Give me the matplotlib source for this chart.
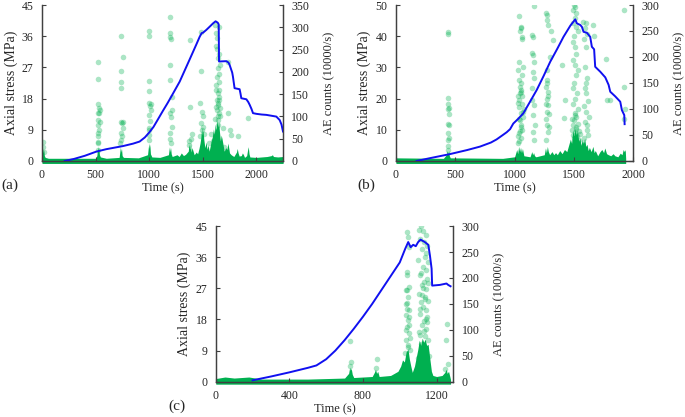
import matplotlib
matplotlib.use("Agg")
import matplotlib.pyplot as plt

plt.rcParams["font.family"] = ["Liberation Serif", "DejaVu Serif"]

GREEN = "#00b050"
BLUE = "#1010f0"
AXC = "#404040"
TXT = "#262626"

# ---------------- panel (a) ----------------
a_stress_t = [212, 300, 400, 507, 600, 756, 850, 911, 960, 1000, 1040, 1080, 1129, 1170, 1207,
              1285, 1378, 1440, 1471, 1490, 1502, 1533, 1570, 1596, 1620, 1640, 1649, 1652,
              1720, 1740, 1751, 1775, 1782, 1797, 1844, 1852, 1860, 1907, 1925, 1938, 1955,
              1969, 2000, 2050, 2093, 2150, 2187, 2218, 2235, 2249]
a_stress = [0.0, 0.6, 1.5, 2.7, 3.4, 4.3, 5.0, 5.6, 6.8, 8.2, 9.8, 11.9, 14.5, 16.6, 18.6,
            22.9, 29.3, 33.6, 35.8, 36.9, 37.0, 37.8, 38.9, 39.7, 40.3, 39.9, 39.4, 28.7,
            28.8, 28.4, 27.7, 25.5, 24.3, 21.0, 20.7, 19.5, 18.1, 17.8, 17.0, 16.2, 15.0,
            13.8, 13.6, 13.4, 13.3, 13.0, 12.8, 11.8, 10.5, 8.5]

a_env_t = [0, 4, 8, 12, 16, 22, 30, 60, 300, 500, 512, 518, 522, 526, 530, 536, 545, 600, 720,
           728, 732, 736, 742, 748, 760, 900, 985, 992, 998, 1002, 1006, 1012, 1025, 1100, 1180,
           1186, 1190, 1195, 1200, 1206, 1215, 1260, 1280, 1300, 1320, 1340, 1365, 1372, 1380,
           1386, 1392, 1400, 1420, 1440, 1452, 1465, 1475, 1482, 1490, 1496, 1502, 1510, 1520,
           1532, 1540, 1550, 1560, 1575, 1590, 1600, 1608, 1616, 1624, 1632, 1640, 1648, 1656,
           1665, 1672, 1680, 1690, 1700, 1715, 1725, 1735, 1742, 1750, 1765, 1790, 1805, 1815,
           1822, 1830, 1840, 1860, 1870, 1880, 1890, 1910, 1918, 1925, 1932, 1940, 2000, 2100,
           2140, 2150, 2160, 2200, 2250]
a_env = [8, 22, 28, 18, 26, 12, 8, 6, 6, 6, 12, 26, 32, 22, 30, 14, 9, 6, 8,
         24, 32, 20, 28, 12, 8, 7, 14, 30, 40, 28, 38, 16, 9, 8, 14,
         26, 32, 20, 30, 16, 10, 14, 10, 18, 12, 15, 22, 38, 26, 40, 20, 30, 14, 20, 16, 28, 40,
         52, 75, 58, 70, 48, 30, 42, 26, 36, 22, 40, 55, 72, 60, 82, 70, 92, 76, 88, 66,
         45, 58, 50, 36, 22, 30, 26, 40, 30, 18, 14, 10, 16, 20,
         28, 18, 11, 12, 18, 14, 8, 12, 24, 32, 16, 9, 8, 10,
         12, 14, 10, 9, 10]

a_pt_t = [8, 10, 15,
          522, 522, 525, 528, 522, 520, 525, 522, 520, 525, 522, 540, 545, 535, 530, 518,
          734, 734, 734, 734, 740, 745, 735, 738, 756, 758, 752, 742, 730,
          998, 998, 998, 998, 1002, 1008, 998, 995, 1000, 1002, 1020, 1018, 1005, 994,
          1191, 1195, 1198, 1205, 1192, 1190, 1195, 1200, 1190, 1213, 1215, 1205, 1213, 1198,
          1378, 1380, 1375, 1390, 1400, 1370,
          1487, 1480, 1471, 1500, 1510, 1495, 1470, 1505, 1485, 1492,
          1610, 1625, 1630, 1620, 1630, 1640, 1635, 1625, 1640, 1630, 1645, 1635, 1640,
          1650, 1655, 1650, 1655, 1645, 1660, 1650, 1655, 1648, 1660, 1640, 1615, 1628,
          1652, 1638, 1622, 1658, 1645,
          1736, 1736, 1767, 1829, 1922, 1700, 1600, 1580, 1750, 1560, 1690]
a_pt_n = [43, 32, 20,
          221, 185, 128, 118, 107, 92, 81, 62, 43, 40, 25, 114, 88, 107, 70, 55,
          281, 202, 177, 163, 88, 85, 62, 47, 234, 88, 73, 55, 40,
          292, 280, 180, 157, 129, 123, 103, 73, 70, 47, 128, 114, 90, 58,
          322, 288, 279, 273, 215, 182, 107, 99, 62, 144, 77, 40, 114, 50,
          271, 122, 35, 50, 60, 45,
          290, 202, 131, 77, 60, 70, 55, 100, 85, 110,
          305, 287, 275, 257, 251, 208, 189, 159, 152, 137, 129, 114, 92,
          178, 160, 144, 136, 126, 118, 107, 300, 240, 100, 80, 95, 170,
          195, 230, 120, 215, 100,
          223, 107, 58, 55, 96, 32, 45, 60, 70, 40, 75]

# ---------------- panel (b) ----------------
b_stress_t = [174, 300, 455, 600, 708, 800, 848, 900, 933, 962, 989, 1030, 1074, 1130, 1187,
              1245, 1300, 1360, 1412, 1470, 1511, 1525, 1553, 1567, 1581, 1609, 1637, 1651,
              1670, 1679, 1722, 1764, 1792, 1806, 1848, 1890, 1904, 1924, 1927]
b_stress = [0.0, 1.0, 2.2, 3.5, 4.6, 5.9, 6.9, 8.3, 9.2, 10.2, 12.0, 13.5, 15.3, 19.0, 22.8,
            27.3, 31.8, 36.0, 39.8, 43.4, 45.4, 44.1, 43.6, 43.0, 41.4, 41.1, 39.8, 36.6,
            35.8, 30.2, 28.6, 26.8, 24.4, 22.2, 20.7, 19.0, 16.3, 14.7, 11.8]

b_env_t = [0, 400, 425, 432, 438, 444, 450, 458, 900, 1000, 1018, 1026, 1034, 1042, 1050,
           1058, 1066, 1078, 1130, 1145, 1152, 1160, 1168, 1180, 1250, 1260, 1268, 1276, 1284,
           1295, 1315, 1330, 1345, 1360, 1380, 1400, 1420, 1440, 1455, 1470, 1480, 1490, 1500,
           1510, 1520, 1530, 1540, 1550, 1560, 1570, 1580, 1590, 1600, 1610, 1620, 1630, 1645,
           1660, 1670, 1680, 1700, 1720, 1735, 1750, 1760, 1775, 1790, 1810, 1830, 1845, 1870,
           1890, 1905, 1915, 1925, 1932, 1936]
b_env = [6, 5, 12, 20, 14, 20, 10, 6, 5, 8, 22, 14, 28, 18, 26, 16, 24, 10, 8, 18, 12, 16, 10,
         8, 12, 25, 16, 28, 18, 12, 18, 12, 16, 12, 20, 14, 22, 18, 30, 42, 34, 58, 48,
         62, 50, 58, 38, 44, 30, 42, 34, 44, 28, 32, 20, 26, 18,
         28, 16, 20, 10, 18, 22, 16, 25, 14, 12, 10, 14, 10, 8,
         15, 12, 22, 18, 22, 5]

b_pt_t = [439, 441, 437, 442, 444, 438, 445, 440, 446, 439, 443, 441, 438, 440,
          1040, 1050, 1055, 1045, 1060, 1065, 1035, 1030, 1040, 1045, 1055, 1050, 1060, 1040,
          1035, 1050, 1045, 1055, 1040, 1030, 1065, 1070, 1035, 1060, 1050,
          1025, 1032, 1048, 1058, 1068, 1075, 1028, 1042, 1052, 1062, 1072, 1038,
          1160, 1150, 1155, 1150, 1158, 1165, 1155, 1160, 1150, 1165, 1158, 1170,
          1152, 1162, 1148,
          1265, 1275, 1270, 1280, 1270, 1275, 1265, 1280, 1270, 1285, 1275, 1265, 1290,
          1268, 1278, 1272, 1288, 1262, 1282, 1274, 1295,
          1310, 1320, 1398, 1425, 1415,
          1500, 1510, 1490, 1520, 1505, 1495, 1515, 1530, 1500, 1490, 1510, 1520, 1495, 1505,
          1530, 1515, 1500, 1490, 1525, 1510, 1495, 1535, 1505, 1520, 1500, 1490, 1515,
          1482, 1488, 1498, 1508, 1518, 1528, 1540, 1545, 1485, 1512, 1538, 1548,
          1580, 1600, 1590, 1610, 1585, 1600, 1595, 1610, 1600, 1590, 1605, 1615, 1585, 1600,
          1592, 1608, 1620, 1625, 1588, 1612,
          1660, 1665, 1770, 1780, 1800, 1924, 1924, 1926, 1922]
b_pt_n = [249, 244, 121, 109, 102, 100, 90, 72, 70, 54, 45, 40, 28, 21,
          279, 258, 255, 250, 239, 235, 191, 175, 156, 143, 137, 133, 125, 117,
          104, 92, 79, 66, 53, 125, 110, 95, 80, 60, 45,
          35, 48, 58, 70, 85, 100, 112, 130, 150, 165, 180, 38,
          298, 242, 238, 208, 204, 190, 172, 160, 117, 107, 88, 70,
          55, 40, 140,
          284, 280, 271, 262, 156, 150, 142, 133, 120, 108, 95, 80, 65,
          40, 55, 70, 90, 110, 125, 175, 200,
          250, 232, 185, 117, 82,
          300, 297, 290, 285, 275, 265, 258, 250, 240, 228, 220, 205, 195, 185,
          175, 165, 150, 140, 130, 120, 110, 100, 92, 85, 78, 70, 65,
          60, 50, 45, 55, 62, 48, 58, 40, 80, 88, 72, 52,
          268, 265, 255, 245, 235, 220, 181, 160, 150, 140, 130, 115, 105, 95,
          75, 60, 50, 85, 45, 70,
          262, 240, 197, 117, 117, 290, 143, 100, 80]

# ---------------- panel (c) ----------------
c_stress_t = [200, 300, 400, 500, 547, 600, 650, 700, 750, 800, 850, 900, 950, 1000, 1030,
              1046, 1059, 1073, 1087, 1100, 1113, 1136, 1155, 1164, 1173, 1176, 1218, 1254,
              1263, 1276]
c_stress = [0.4, 1.5, 2.7, 4.0, 4.7, 6.5, 9.0, 12.0, 15.3, 18.8, 22.5, 26.5, 30.5, 34.5,
            38.5, 40.4, 38.9, 39.6, 39.2, 40.4, 41.1, 40.4, 39.6, 36.5, 32.7, 27.8, 28.0,
            28.4, 28.0, 27.6]

c_env_t = [0, 50, 100, 180, 250, 500, 700, 722, 728, 732, 736, 742, 750, 850, 862, 868, 874,
           880, 888, 950, 990, 1005, 1015, 1025, 1035, 1045, 1052, 1060, 1068, 1080, 1090,
           1098, 1106, 1114, 1122, 1130, 1138, 1146, 1154, 1162, 1172, 1180, 1200, 1230, 1245,
           1252, 1258, 1265, 1272, 1276]
c_env = [6, 9, 7, 9, 5, 5, 7, 16, 28, 22, 26, 14, 8, 10, 18, 24, 16, 20, 10, 12, 20, 30, 42,
         38, 58, 62, 44, 30, 18, 30, 48, 62, 80, 70, 84, 76, 82, 70, 72, 48, 20, 12, 10, 12,
         18, 24, 16, 20, 10, 4]

c_pt_t = [732, 735, 730, 874, 870,
          1040, 1045, 1038, 1042, 1048, 1035, 1045, 1040, 1050, 1035, 1045, 1040, 1048, 1036,
          1044, 1030, 1052, 1055, 1050, 1038,
          1042, 1034, 1050, 1046, 1032, 1054,
          1115, 1105, 1125, 1140, 1110, 1130, 1150, 1120, 1145, 1135, 1100, 1155, 1125, 1140,
          1110, 1150, 1130, 1120, 1145, 1105, 1135, 1155, 1115, 1125, 1140, 1110, 1150, 1130,
          1120, 1145, 1105, 1135, 1155, 1115, 1125, 1140, 1160, 1100,
          1118, 1128, 1138, 1148, 1108, 1132, 1152, 1122, 1142, 1112,
          1255, 1250, 1260, 1245]
c_pt_n = [78, 38, 30, 44, 26,
          289, 279, 212, 205, 183, 177, 164, 151, 138, 128, 119, 106, 93, 80,
          67, 55, 110, 85, 260, 176,
          140, 150, 125, 70, 100, 62,
          301, 292, 290, 282, 275, 270, 262, 256, 248, 240, 235, 231, 222, 215,
          205, 198, 192, 186, 178, 170, 163, 156, 154, 145, 138, 130, 125, 118,
          110, 102, 95, 88, 80, 72, 64, 58, 50, 45,
          210, 180, 160, 115, 140, 98, 190, 168, 120, 90,
          112, 80, 35, 25]

panels = [
    dict(rect=[0.0613, 0.614, 0.352, 0.374], xlim=2250, xticks=[0, 500, 1000, 1500, 2000],
         ylim=45, yticks=[0, 9, 18, 27, 36, 45], y2lim=350, y2ticks=range(0, 351, 50),
         st=a_stress_t, s=a_stress, et=a_env_t, e=a_env, pt=a_pt_t, pn=a_pt_n,
         tag="(a)", tagpos=(0.002, 0.548)),
    dict(rect=[0.578, 0.614, 0.3465, 0.374], xlim=2000, xticks=[0, 500, 1000, 1500, 2000],
         ylim=50, yticks=[0, 10, 20, 30, 40, 50], y2lim=300, y2ticks=range(0, 301, 50),
         st=b_stress_t, s=b_stress, et=b_env_t, e=b_env, pt=b_pt_t, pn=b_pt_n,
         tag="(b)", tagpos=(0.521, 0.548)),
    dict(rect=[0.315, 0.0847, 0.3465, 0.373], xlim=1290, xticks=[0, 400, 800, 1200],
         ylim=45, yticks=[0, 9, 18, 27, 36, 45], y2lim=300, y2ticks=range(0, 301, 50),
         st=c_stress_t, s=c_stress, et=c_env_t, e=c_env, pt=c_pt_t, pn=c_pt_n,
         tag="(c)", tagpos=(0.246, 0.016)),
]

fig = plt.figure(figsize=(6.85, 4.17), dpi=100)

for p in panels:
    ax = fig.add_axes(p["rect"])
    ax2 = ax.twinx()
    ax.set_zorder(ax2.get_zorder() + 1)
    ax.patch.set_visible(False)

    # AE counts on the right axis
    lo = -0.016 * p["y2lim"]
    ax2.fill_between(p["et"], lo, p["e"], color=GREEN, lw=0, clip_on=False)
    ax2.scatter(p["pt"], p["pn"], s=16, color=GREEN, alpha=0.33, lw=0)
    ax2.set_ylim(0, p["y2lim"])
    ax2.set_yticks(list(p["y2ticks"]))

    # stress on the left axis
    ax.plot(p["st"], p["s"], color=BLUE, lw=1.4)
    ax.set_xlim(0, p["xlim"])
    ax.set_ylim(0, p["ylim"])
    ax.set_xticks(p["xticks"])
    ax.set_yticks(p["yticks"])

    for a in (ax, ax2):
        a.spines["top"].set_visible(False)
        for sp in ("left", "right", "bottom"):
            a.spines[sp].set_color(AXC)
            a.spines[sp].set_linewidth(0.9)
        a.tick_params(colors=AXC, labelcolor=TXT, labelsize=8.5, length=3, width=0.8,
                      direction="in", pad=6)

    ax.set_ylabel("Axial stress (MPa)", fontsize=10, color=TXT, labelpad=3)
    ax2.set_ylabel("AE counts (10000/s)", fontsize=9, color=TXT, labelpad=10)
    ax.set_xlabel("Time (s)", fontsize=9, color=TXT, labelpad=1)
    fig.text(p["tagpos"][0], p["tagpos"][1], p["tag"], fontsize=11, color=TXT)

fig.savefig("out.png", dpi=100)
